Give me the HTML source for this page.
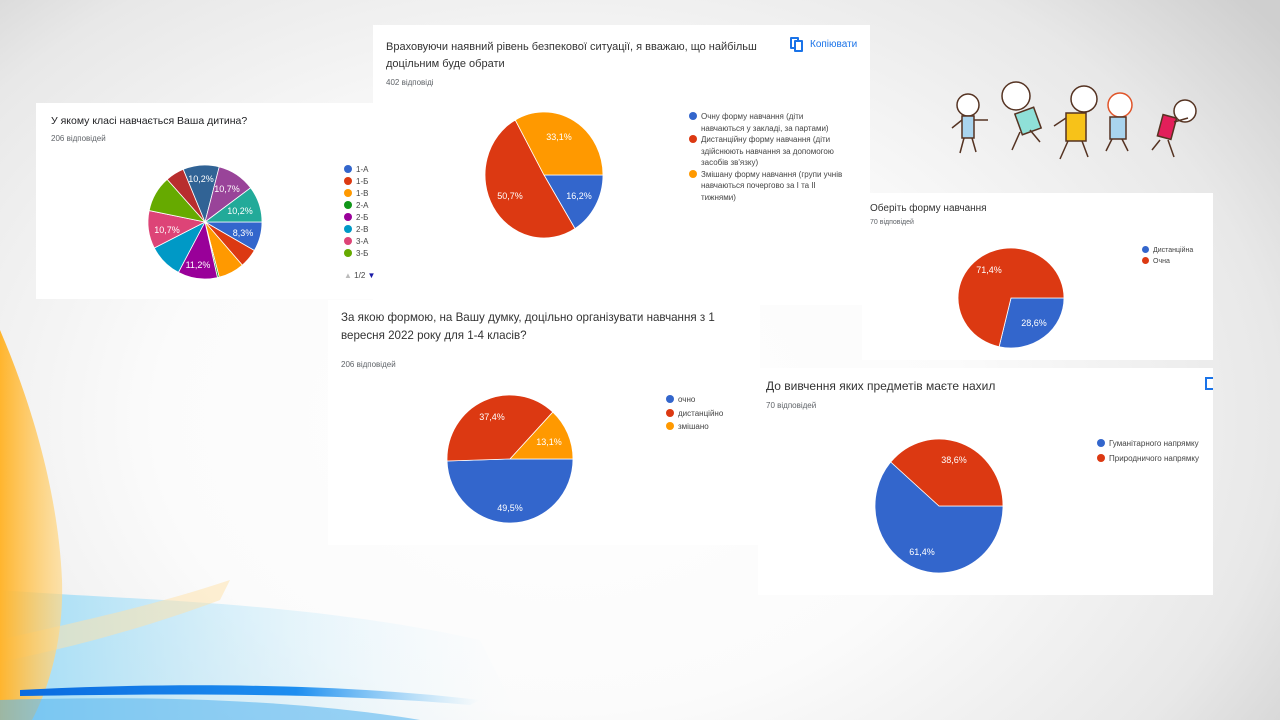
<!DOCTYPE html>
<html><head><meta charset="utf-8"><style>
*{margin:0;padding:0;box-sizing:border-box}
body{width:1280px;height:720px;overflow:hidden;position:relative;font-family:"Liberation Sans",sans-serif;
background:radial-gradient(ellipse 900px 650px at 560px 420px,#ffffff 0%,#fbfbfb 45%,#e8e8e8 80%,#cfcfcf 100%);}
.card{position:absolute;background:#fff}
.t{position:absolute;white-space:nowrap;color:#202124}
.s{position:absolute;white-space:nowrap;color:#5f6368;font-size:8px}
.lg{position:absolute;white-space:nowrap;color:#444;font-size:8px;line-height:11.5px}
.lg i{display:inline-block;width:8px;height:8px;border-radius:50%;margin-right:4px;vertical-align:-1px}
.pl{position:absolute;color:#fff;font-size:9px;transform:translate(-50%,-50%);white-space:nowrap}
svg{position:absolute;left:0;top:0}
</style></head><body>
<svg width="1280" height="720">
<defs>
<linearGradient id="og" x1="0" y1="0" x2="1" y2="0"><stop offset="0" stop-color="#ffb52e"/><stop offset="1" stop-color="#ffd98a" stop-opacity="0.7"/></linearGradient>
<linearGradient id="bg2" x1="0" y1="0" x2="1" y2="0"><stop offset="0" stop-color="#9fdcf6"/><stop offset="1" stop-color="#e6f6fd" stop-opacity="0"/></linearGradient>
<linearGradient id="bl" x1="0" y1="0" x2="1" y2="0"><stop offset="0" stop-color="#0a6be0"/><stop offset="0.6" stop-color="#1d8ef0"/><stop offset="1" stop-color="#6cc2f5" stop-opacity="0"/></linearGradient>
</defs>
<path d="M0 590 C120 600 300 600 480 640 L520 720 L0 720Z" fill="url(#bg2)"/>
<path d="M0 640 C60 625 140 610 230 580 L220 600 C140 630 60 650 0 662Z" fill="#ffe2a8" opacity="0.5"/>
<path d="M0 330 C30 400 58 490 62 580 C64 640 48 690 32 720 L0 720Z" fill="url(#og)"/>
<path d="M20 690 C150 683 330 682 480 700 L470 705 C330 692 150 694 20 696Z" fill="url(#bl)"/>
<path d="M0 700 C150 695 300 700 420 720 L0 720Z" fill="#5bb7f0" opacity="0.6"/>
</svg>
<div class="card" style="left:36px;top:103px;width:338px;height:196px"></div>
<div class="card" style="left:373px;top:25px;width:497px;height:280px"></div>
<div class="card" style="left:328px;top:300px;width:432px;height:245px"></div>
<div class="card" style="left:862px;top:193px;width:351px;height:167px"></div>
<div class="card" style="left:758px;top:368px;width:455px;height:227px"></div>
<svg width="1280" height="720" id="pies"></svg>
<svg width="1280" height="720">
<g stroke="#553322" stroke-width="1.5" fill="none">
<circle cx="968" cy="105" r="11" fill="#fff"/><rect x="962" y="116" width="12" height="22" fill="#a9d4ee"/><path d="M964 138 l-4 15 M972 138 l4 14 M962 120 l-10 8 M974 120 l14 0"/>
<circle cx="1016" cy="96" r="14" fill="#fff"/><rect x="1018" y="110" width="20" height="22" fill="#8fe0d8" transform="rotate(-20 1028 121)"/><path d="M1020 132 l-8 18 M1030 130 l10 12"/>
<circle cx="1084" cy="99" r="13" fill="#fff"/><rect x="1066" y="113" width="20" height="28" fill="#f7c219"/><path d="M1068 141 l-8 18 M1082 141 l6 16 M1066 118 l-12 8"/>
<circle cx="1120" cy="105" r="12" fill="#fff" stroke="#e0552a"/><rect x="1110" y="117" width="16" height="22" fill="#a9d4ee"/><path d="M1112 139 l-6 12 M1122 139 l6 12"/>
<circle cx="1185" cy="111" r="11" fill="#fff"/><rect x="1160" y="116" width="14" height="22" fill="#e21f5a" transform="rotate(15 1167 127)"/><path d="M1160 140 l-8 10 M1168 140 l6 17 M1174 122 l14 -4"/>
</g></svg>

<div class="t" style="left:51px;top:115px;font-size:10.5px">У якому класі навчається Ваша дитина?</div>
<div class="s" style="left:51px;top:134px">206 відповідей</div>
<div class="lg" style="left:344px;top:164px;line-height:12px">
<div><i style="background:#3366cc"></i>1-А</div><div><i style="background:#dc3912"></i>1-Б</div><div><i style="background:#ff9900"></i>1-В</div><div><i style="background:#109618"></i>2-А</div><div><i style="background:#990099"></i>2-Б</div><div><i style="background:#0099c6"></i>2-В</div><div><i style="background:#dd4477"></i>3-А</div><div><i style="background:#66aa00"></i>3-Б</div></div>
<div class="lg" style="left:344px;top:270px"><span style="color:#bbb">▲</span> 1/2 <span style="color:#1a1aa6">▼</span></div>

<div class="t" style="left:386px;top:39px;font-size:11px;line-height:17px;color:#333">Враховуючи наявний рівень безпекової ситуації, я вважаю, що найбільш<br>доцільним буде обрати</div>
<div class="s" style="left:386px;top:78px">402 відповіді</div>
<div style="position:absolute;left:790px;top:37px;width:9px;height:12px;border:2px solid #1a73e8;border-radius:1px"></div>
<div style="position:absolute;left:794px;top:40px;width:9px;height:12px;border:2px solid #1a73e8;background:#fff;border-radius:1px"></div>
<div class="t" style="left:810px;top:39px;font-size:10px;color:#1a73e8">Копіювати</div>
<div class="lg" style="left:689px;top:111px">
<div><i style="background:#3366cc"></i>Очну форму навчання (діти</div><div style="padding-left:12px">навчаються у закладі, за партами)</div>
<div><i style="background:#dc3912"></i>Дистанційну форму навчання (діти</div><div style="padding-left:12px">здійснюють навчання за допомогою</div><div style="padding-left:12px">засобів зв'язку)</div>
<div><i style="background:#ff9900"></i>Змішану форму навчання (групи учнів</div><div style="padding-left:12px">навчаються почергово за I та II</div><div style="padding-left:12px">тижнями)</div></div>

<div class="t" style="left:341px;top:309px;font-size:11.6px;line-height:18px;color:#333">За якою формою, на Вашу думку, доцільно організувати навчання з 1<br>вересня 2022 року для 1-4 класів?</div>
<div class="s" style="left:341px;top:360px">206 відповідей</div>
<div class="lg" style="left:666px;top:393px;line-height:13.5px">
<div><i style="background:#3366cc"></i>очно</div><div><i style="background:#dc3912"></i>дистанційно</div><div><i style="background:#ff9900"></i>змішано</div></div>

<div class="t" style="left:870px;top:203px;font-size:10px;color:#333">Оберіть форму навчання</div>
<div class="s" style="left:870px;top:219px;font-size:7px">70 відповідей</div>
<div class="lg" style="left:1142px;top:245px;font-size:7px;line-height:11px">
<div><i style="background:#3366cc;width:7px;height:7px"></i>Дистанційна</div><div><i style="background:#dc3912;width:7px;height:7px"></i>Очна</div></div>

<div class="t" style="left:766px;top:379px;font-size:12px;color:#333">До вивчення яких предметів маєте нахил</div>
<div class="s" style="left:766px;top:401px">70 відповідей</div>
<div style="position:absolute;left:1205px;top:377px;width:8px;height:13px;border:2px solid #1a73e8;border-right:none"></div>
<div class="lg" style="left:1097px;top:436px;line-height:15px">
<div><i style="background:#3366cc"></i>Гуманітарного напрямку</div><div><i style="background:#dc3912"></i>Природничого напрямку</div></div>

<div class="pl" style="left:201px;top:179px">10,2%</div>
<div class="pl" style="left:227px;top:189px">10,7%</div>
<div class="pl" style="left:240px;top:211px">10,2%</div>
<div class="pl" style="left:243px;top:233px">8,3%</div>
<div class="pl" style="left:198px;top:265px">11,2%</div>
<div class="pl" style="left:167px;top:230px">10,7%</div>
<div class="pl" style="left:559px;top:137px">33,1%</div>
<div class="pl" style="left:510px;top:196px">50,7%</div>
<div class="pl" style="left:579px;top:196px">16,2%</div>
<div class="pl" style="left:492px;top:417px">37,4%</div>
<div class="pl" style="left:549px;top:442px">13,1%</div>
<div class="pl" style="left:510px;top:508px">49,5%</div>
<div class="pl" style="left:989px;top:270px">71,4%</div>
<div class="pl" style="left:1034px;top:323px">28,6%</div>
<div class="pl" style="left:954px;top:460px">38,6%</div>
<div class="pl" style="left:922px;top:552px">61,4%</div>

<script>
var pies=[
[205,222,57,57,[[8.3,'#3366cc'],[5.3,'#dc3912'],[7.3,'#ff9900'],[0.5,'#109618'],[11.2,'#990099'],[9.7,'#0099c6'],[10.7,'#dd4477'],[10.2,'#66aa00'],[5.3,'#b82e2e'],[10.2,'#316395'],[10.7,'#994499'],[10.2,'#22aa99']]],
[544,175,59,63,[[16.2,'#3366cc'],[50.7,'#dc3912'],[33.1,'#ff9900']]],
[510,459,63,64,[[49.5,'#3366cc'],[37.4,'#dc3912'],[13.1,'#ff9900']]],
[1011,298,53,50,[[28.6,'#3366cc'],[71.4,'#dc3912']]],
[939,506,64,67,[[61.4,'#3366cc'],[38.6,'#dc3912']]]];
var s='';
pies.forEach(function(p){var cx=p[0],cy=p[1],rx=p[2],ry=p[3],tot=0;p[4].forEach(function(d){tot+=d[0]});var a=0;
p[4].forEach(function(d){var a2=a+d[0]/tot*2*Math.PI;var x1=cx+rx*Math.cos(a),y1=cy+ry*Math.sin(a),x2=cx+rx*Math.cos(a2),y2=cy+ry*Math.sin(a2);
s+='<path d="M'+cx+' '+cy+' L'+x1+' '+y1+' A'+rx+' '+ry+' 0 '+((a2-a)>Math.PI?1:0)+' 1 '+x2+' '+y2+' Z" fill="'+d[1]+'" stroke="#fff" stroke-width="0.8"/>';a=a2;});});
document.getElementById('pies').innerHTML=s;
</script>
</body></html>
